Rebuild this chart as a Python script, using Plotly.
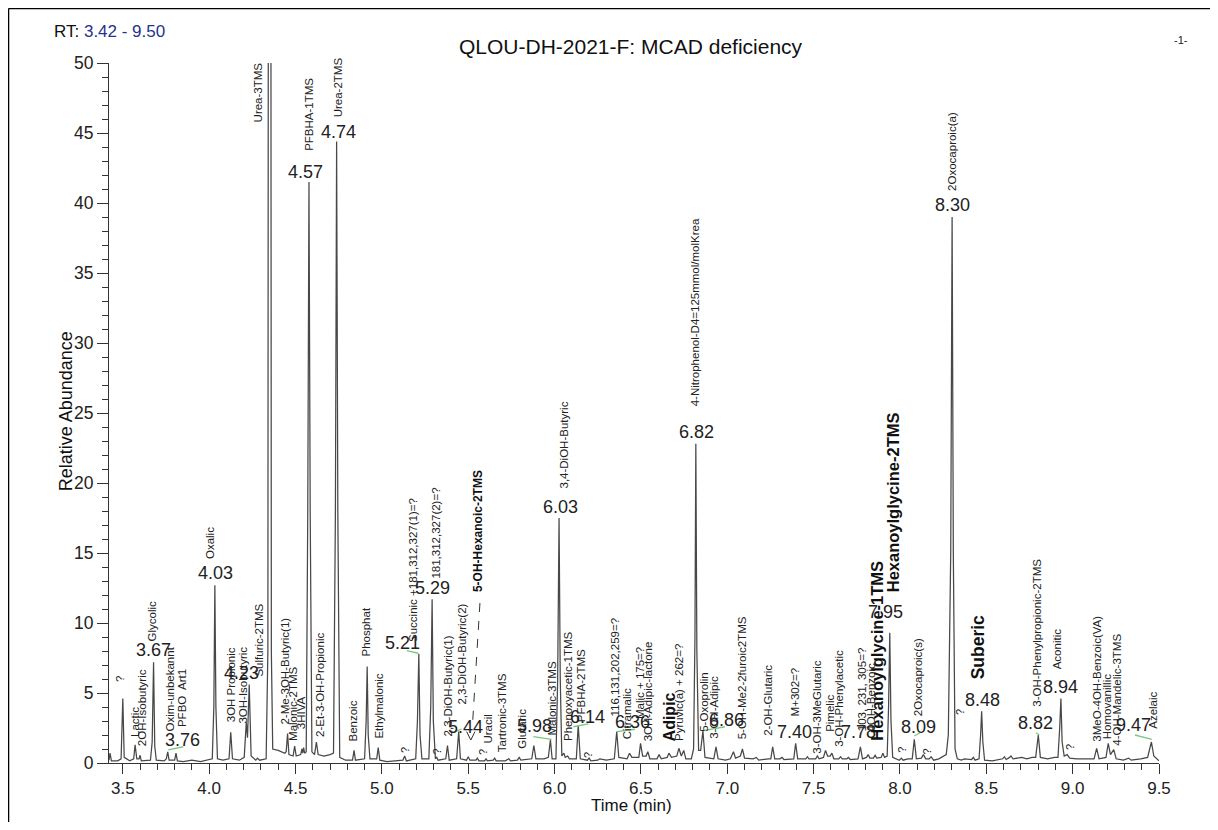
import plotly.graph_objects as go

# ---------------- chromatogram trace: (retention time [min], relative abundance [%]) ----------------
seg_a = [(3.420, 0.20), (3.426, 0.70), (3.434, 0.15), (3.470, 0.15), (3.490, 0.30), (3.500, 4.60),
         (3.508, 0.40), (3.540, 0.15), (3.563, 0.30), (3.571, 1.30), (3.581, 0.30), (3.594, 0.30),
         (3.600, 0.55), (3.607, 0.15), (3.660, 0.20), (3.670, 1.50), (3.678, 7.20), (3.685, 1.20),
         (3.694, 0.20), (3.740, 0.15), (3.752, 0.30), (3.760, 0.80), (3.768, 0.20), (3.800, 0.20),
         (3.808, 0.70), (3.816, 0.15), (3.850, 0.10), (3.900, 0.20), (3.950, 0.10), (3.990, 0.20)]
seg_b = [(4.018, 0.30), (4.027, 4.00), (4.033, 12.7), (4.039, 4.00), (4.048, 0.30), (4.080, 0.20),
         (4.115, 0.30), (4.125, 2.20), (4.135, 0.30), (4.175, 0.20), (4.203, 0.40), (4.215, 2.90),
         (4.222, 1.80), (4.232, 5.60), (4.243, 0.50), (4.270, 0.20), (4.280, 0.35), (4.292, 0.20),
         (4.330, 0.30), (4.340, 8.00), (4.350, 200.0), (4.360, 8.00), (4.368, 1.00), (4.400, 0.90),
         (4.438, 0.70), (4.446, 0.80), (4.454, 2.10), (4.462, 0.60), (4.486, 0.50), (4.495, 1.20),
         (4.504, 0.50), (4.530, 0.60), (4.537, 1.00), (4.542, 0.70), (4.547, 1.10), (4.553, 0.70),
         (4.562, 0.80), (4.571, 18.0), (4.578, 41.5), (4.585, 18.0), (4.595, 0.80), (4.610, 0.60),
         (4.621, 1.50), (4.631, 0.60), (4.665, 0.50), (4.700, 0.60), (4.720, 0.70), (4.731, 18.0),
         (4.738, 44.4), (4.745, 18.0), (4.756, 0.40), (4.790, 0.20), (4.830, 0.20), (4.839, 0.90),
         (4.847, 0.20), (4.900, 0.30), (4.909, 3.00), (4.915, 6.90), (4.921, 2.00), (4.931, 0.30),
         (4.970, 0.30), (4.979, 1.10), (4.988, 0.20)]
seg_c = [(5.030, 0.10), (5.080, 0.15), (5.122, 0.20), (5.132, 0.50), (5.142, 0.15), (5.196, 0.30),
         (5.206, 3.00), (5.214, 7.80), (5.221, 2.00), (5.232, 0.30), (5.272, 0.30), (5.283, 4.00),
         (5.291, 11.7), (5.298, 3.00), (5.310, 0.30), (5.318, 0.40), (5.326, 0.20), (5.370, 0.30),
         (5.380, 1.25), (5.390, 0.20), (5.433, 0.30), (5.445, 2.25), (5.455, 0.30), (5.490, 0.20),
         (5.500, 0.45), (5.510, 0.20), (5.545, 0.20), (5.553, 0.35), (5.562, 0.15), (5.595, 0.15),
         (5.603, 0.30), (5.611, 0.15), (5.645, 0.20), (5.653, 0.35), (5.662, 0.15), (5.715, 0.15),
         (5.735, 0.30), (5.745, 0.15), (5.785, 0.20), (5.795, 0.40), (5.805, 0.20), (5.868, 0.30),
         (5.880, 1.25), (5.892, 0.30), (5.940, 0.30), (5.964, 0.40), (5.976, 1.65), (5.986, 0.30)]
seg_d = [(6.008, 0.30), (6.018, 6.00), (6.026, 17.5), (6.033, 6.00), (6.042, 0.50), (6.054, 0.70),
         (6.062, 0.40), (6.076, 0.50), (6.086, 0.30), (6.126, 0.30), (6.137, 2.70), (6.149, 0.30),
         (6.190, 0.20), (6.200, 0.35), (6.210, 0.15), (6.250, 0.20), (6.262, 0.30), (6.300, 0.20),
         (6.346, 0.30), (6.360, 2.25), (6.372, 0.40), (6.420, 0.30), (6.434, 0.70), (6.448, 0.40),
         (6.488, 0.40), (6.498, 1.40), (6.510, 0.50), (6.530, 0.50), (6.540, 0.80), (6.552, 0.30),
         (6.593, 0.30), (6.605, 0.60), (6.618, 0.30), (6.652, 0.40), (6.662, 0.70), (6.677, 0.40),
         (6.708, 0.50), (6.720, 1.05), (6.734, 0.50), (6.748, 0.90), (6.760, 0.30), (6.792, 0.30),
         (6.805, 1.00), (6.813, 9.00), (6.818, 22.8), (6.824, 8.00), (6.834, 0.90), (6.846, 0.90),
         (6.859, 2.30), (6.871, 0.40), (6.922, 0.30), (6.935, 1.15), (6.947, 0.30), (6.990, 0.20),
         (7.018, 0.30), (7.036, 0.80), (7.048, 0.35), (7.076, 0.50), (7.088, 1.00), (7.100, 0.35)]
seg_e = [(7.150, 0.30), (7.168, 0.40), (7.182, 0.20), (7.240, 0.30), (7.252, 0.30), (7.263, 1.15),
         (7.275, 0.30), (7.305, 0.30), (7.317, 0.40), (7.328, 0.25), (7.385, 0.30), (7.396, 1.40),
         (7.408, 0.30), (7.455, 0.30), (7.464, 0.45), (7.473, 0.30), (7.512, 0.30), (7.522, 0.50),
         (7.532, 0.30), (7.557, 0.40), (7.569, 0.90), (7.581, 0.50), (7.596, 0.50), (7.606, 0.70),
         (7.617, 0.30), (7.646, 0.30), (7.656, 0.45), (7.666, 0.30), (7.692, 0.30), (7.702, 0.40),
         (7.712, 0.25), (7.757, 0.30), (7.771, 1.15), (7.783, 0.30), (7.806, 0.40), (7.816, 0.60),
         (7.826, 0.35), (7.846, 0.35), (7.856, 0.55), (7.866, 0.35), (7.891, 0.40), (7.901, 0.70),
         (7.911, 0.40), (7.926, 0.50), (7.934, 4.00), (7.941, 9.30), (7.948, 3.00), (7.958, 0.40),
         (7.996, 0.20), (8.008, 0.35), (8.018, 0.20), (8.046, 0.30), (8.071, 0.30), (8.083, 1.70),
         (8.095, 0.30), (8.124, 0.35), (8.136, 0.60), (8.149, 0.30), (8.170, 0.30), (8.180, 0.45),
         (8.195, 0.20), (8.225, 0.30), (8.250, 0.50), (8.268, 0.60)]
seg_f = [(8.280, 2.00), (8.294, 15.0), (8.302, 39.0), (8.309, 15.0), (8.319, 1.00), (8.332, 0.30),
         (8.355, 0.20), (8.375, 0.30), (8.415, 0.25), (8.425, 0.40), (8.435, 0.20), (8.458, 0.30),
         (8.467, 2.00), (8.473, 3.70), (8.480, 1.50), (8.490, 0.20), (8.535, 0.15), (8.595, 0.30),
         (8.605, 0.45), (8.615, 0.25), (8.635, 0.40), (8.643, 0.50), (8.655, 0.30), (8.695, 0.35),
         (8.705, 0.40), (8.735, 0.30), (8.765, 0.40), (8.786, 0.40), (8.801, 2.00), (8.813, 0.40),
         (8.855, 0.30), (8.895, 0.40), (8.915, 0.40), (8.925, 2.50), (8.932, 4.60), (8.939, 1.50),
         (8.951, 0.50), (8.968, 0.60), (8.983, 0.35), (9.023, 0.30), (9.045, 0.30), (9.095, 0.30),
         (9.124, 0.30), (9.139, 1.05), (9.153, 0.30), (9.193, 0.40), (9.206, 1.40), (9.219, 0.60),
         (9.238, 0.95), (9.252, 0.30), (9.294, 0.20), (9.324, 0.35), (9.339, 0.20), (9.394, 0.30),
         (9.434, 0.40), (9.456, 1.50), (9.470, 0.50), (9.500, 0.15)]

# ---------------- peak retention-time labels (text, rt, abundance) ----------------
rt_labels = [("3.67", 3.679, 8.07), ("3.76", 3.843, 1.64), ("4.03", 4.034, 13.57), ("4.23", 4.188, 6.43),
             ("4.57", 4.555, 42.21), ("4.74", 4.746, 45.07), ("5.21", 5.122, 8.57), ("5.29", 5.296, 12.5),
             ("5.44", 5.487, 2.57), ("5.98", 5.884, 2.64), ("6.03", 6.032, 18.29),
             ("6.14", 6.191, 3.32), ("6.36", 6.450, 2.95), ("6.82", 6.823, 23.66), ("6.86", 6.997, 3.07),
             ("7.40", 7.392, 2.24), ("7.78", 7.759, 2.24), ("7.95", 7.919, 10.79), ("8.09", 8.110, 2.59),
             ("8.30", 8.304, 39.86), ("8.48", 8.477, 4.50), ("8.82", 8.784, 2.84), ("8.94", 8.931, 5.45),
             ("9.47", 9.351, 2.71)]

# ---------------- compound names (text, rt, abundance at text foot) ----------------
compound_names = [
    ("?", 3.484, 5.71), ("Lactic", 3.571, 1.79), ("2OH-Isobutyric", 3.609, 1.14), ("Glycolic", 3.669, 8.57),
    ("Oxim-unbekannt", 3.773, 2.21), ("PFBO  Art1", 3.843, 2.50), ("Oxalic", 4.005, 14.5),
    ("3OH Propionic", 4.131, 2.86), ("3OH-Isobutyric", 4.196, 2.71), ("Sulfuric-2TMS", 4.283, 6.07),
    ("Urea-3TMS", 4.284, 45.7), ("2-Me-3OH-Butyric(1)", 4.439, 2.71), ("Malonic-2TMS", 4.485, 1.50),
    ("3HIVA", 4.536, 2.36), ("PFBHA-1TMS", 4.574, 43.64), ("2-Et-3-OH-Propionic", 4.642, 1.79),
    ("Urea-2TMS", 4.748, 46.07), ("Benzoic", 4.833, 1.43), ("Phosphat", 4.908, 7.57),
    ("Ethylmalonic", 4.978, 1.64), ("Succinic +181,312,327(1)=?", 5.180, 8.57),
    ("181,312,327(2)=?", 5.308, 13.07), ("2,3-DiOH-Butyric(1)", 5.383, 1.79),
    ("2,3-DiOH-Butyric(2)", 5.464, 4.14), ("Uracil", 5.615, 1.29), ("Tartronic-3TMS", 5.694, 0.71),
    ("Glutaric", 5.810, 0.93), ("Malonic-3TMS", 5.983, 1.86), ("3,4-DiOH-Butyric", 6.049, 19.5),
    ("Phenoxyacetic-1TMS", 6.078, 1.50), ("PFBHA-2TMS", 6.157, 2.86), ("116,131,202,259=?", 6.350, 3.21),
    ("Citramalic", 6.418, 1.64), ("Malic + 175=?", 6.495, 3.07), ("3OH-Adipic-lactone", 6.543, 1.50),
    ("Pyruvic(a) + 262=?", 6.717, 1.50), ("4-Nitrophenol-D4=125mmol/molKrea", 6.815, 25.43),
    ("5-Oxoprolin", 6.861, 2.14), ("3-OH-Adipic", 6.919, 1.64), ("5-OH-Me2-2furoic2TMS", 7.084, 1.64),
    ("2-OH-Glutaric", 7.238, 1.86), ("M+302=?", 7.392, 3.29), ("3-OH-3MeGlutaric", 7.518, 0.57),
    ("Pimelic", 7.591, 2.14), ("3-OH-Phenylacetic", 7.643, 1.07), ("103, 231, 305=?", 7.778, 2.21),
    ("4OH-Benzoic", 7.827, 2.14), ("2Oxocaproic(s)", 8.106, 3.29), ("2Oxocaproic(a)", 8.304, 40.79),
    ("3-OH-Phenylpropionic-2TMS", 8.792, 3.93), ("Aconitic", 8.908, 6.64),
    ("3MeO-4OH-Benzoic(VA)", 9.139, 1.43), ("Homovanillic", 9.197, 1.64),
    ("4-OH-Mandelic-3TMS", 9.255, 1.14), ("Azelaic", 9.467, 2.36)]

# highlighted (bold) compound names: (text, rt, abundance at text foot, font size)
key_names = [("5-OH-Hexanoic-2TMS", 5.557, 12.14, 12), ("Adipic", 6.668, 1.50, 16),
             ("Hexanoylglycine-1TMS", 7.865, 1.50, 16.5), ("Hexanoylglycine-2TMS", 7.961, 12.14, 16.5),
             ("Suberic", 8.454, 5.93, 17.5)]

# unidentified small peaks marked "?" (rt, abundance at mark centre)
unknown_marks = [(5.134, 0.93), (5.318, 0.81), (5.582, 0.81), (6.194, 0.57), (8.010, 0.93),
                 (8.155, 0.81), (8.348, 3.64), (8.985, 1.14)]

# green integration baseline ticks: (rt start, abundance start, rt end, abundance end)
baseline_ticks = [(3.763, 0.93, 3.850, 1.16), (5.144, 8.02, 5.211, 7.84), (5.424, 2.24, 5.462, 2.43),
                  (5.877, 1.88, 5.983, 1.69), (6.109, 2.59, 6.196, 2.79), (6.360, 2.24, 6.466, 2.41),
                  (6.861, 2.31, 6.987, 2.59), (8.083, 1.93, 8.116, 2.16), (8.788, 2.16, 8.807, 2.00),
                  (9.361, 2.00, 9.458, 1.69)]

# dashed pointer from the 5-OH-Hexanoic-2TMS label down to its position
pointer_rt = [5.568, 5.524]
pointer_ab = [11.43, 2.59]
pointer_head_rt = [5.491, 5.515, 5.539]
pointer_head_ab = [2.24, 1.64, 2.24]

x_ticks = [3.5, 4.0, 4.5, 5.0, 5.5, 6.0, 6.5, 7.0, 7.5, 8.0, 8.5, 9.0, 9.5]
y_ticks = [0, 5, 10, 15, 20, 25, 30, 35, 40, 45, 50]

# ---------------- build figure ----------------
FONT = "Liberation Sans, Arial, sans-serif"
points = seg_a + seg_b + seg_c + seg_d + seg_e + seg_f
rt_all = [p[0] for p in points]
ab_all = [p[1] for p in points]

fig = go.Figure()
fig.add_trace(go.Scatter(x=rt_all, y=ab_all, mode="lines",
                         line=dict(color="#484848", width=1.25), hoverinfo="skip"))

gx, gy = [], []
for x0, y0, x1, y1 in baseline_ticks:
    gx += [x0, x1, None]
    gy += [y0, y1, None]
fig.add_trace(go.Scatter(x=gx, y=gy, mode="lines", line=dict(color="#7cc87c", width=1.3),
                         hoverinfo="skip"))
fig.add_trace(go.Scatter(x=pointer_rt, y=pointer_ab, mode="lines",
                         line=dict(color="#333333", width=1, dash="dash"), hoverinfo="skip"))
fig.add_trace(go.Scatter(x=pointer_head_rt, y=pointer_head_ab, mode="lines",
                         line=dict(color="#333333", width=1), hoverinfo="skip"))

ann = []
for txt, x, y in rt_labels:
    ann.append(dict(x=x, y=y, xref="x", yref="y", text=txt, showarrow=False,
                    font=dict(family=FONT, size=18, color="#222222"),
                    xanchor="center", yanchor="middle"))
for txt, x, y in compound_names:
    ann.append(dict(x=x, y=y, xref="x", yref="y", text=txt, showarrow=False, textangle=-90,
                    font=dict(family=FONT, size=11.5, color="#222222"),
                    xanchor="center", yanchor="bottom", borderpad=0))
for txt, x, y, s in key_names:
    ann.append(dict(x=x, y=y, xref="x", yref="y", text="<b>" + txt + "</b>", showarrow=False,
                    textangle=-90, font=dict(family=FONT, size=s, color="#111111"),
                    xanchor="center", yanchor="bottom", borderpad=0))
for x, y in unknown_marks:
    ann.append(dict(x=x, y=y, xref="x", yref="y", text="?", showarrow=False, textangle=-90,
                    font=dict(family=FONT, size=11, color="#222222"),
                    xanchor="center", yanchor="middle", borderpad=0))

# page texts (paper coordinates relative to the plotting area)
ann.append(dict(x=0.4967, y=1.0229, xref="paper", yref="paper", showarrow=False,
                text="QLOU-DH-2021-F: MCAD deficiency", xanchor="center", yanchor="middle",
                font=dict(family=FONT, size=21, color="#111111")))
ann.append(dict(x=-0.0543, y=1.0443, xref="paper", yref="paper", showarrow=False,
                text="RT: <span style='color:#26338a'>3.42 - 9.50</span>", xanchor="left",
                yanchor="middle", font=dict(family=FONT, size=17, color="#111111")))
ann.append(dict(x=1.021, y=1.0329, xref="paper", yref="paper", showarrow=False, text="-1-",
                xanchor="center", yanchor="middle", font=dict(family=FONT, size=11, color="#222222")))
ann.append(dict(x=-0.0412, y=0.502, xref="paper", yref="paper", showarrow=False,
                text="Relative Abundance", textangle=-90, xanchor="center", yanchor="middle",
                font=dict(family=FONT, size=18, color="#111111")))
ann.append(dict(x=0.498, y=-0.0614, xref="paper", yref="paper", showarrow=False,
                text="Time (min)", xanchor="center", yanchor="middle",
                font=dict(family=FONT, size=17, color="#111111")))

shapes = [
    dict(type="line", xref="paper", yref="paper", x0=-0.0957, x1=1.06, y0=1.0779, y1=1.0779,
         line=dict(color="black", width=1.5)),
    dict(type="line", xref="paper", yref="paper", x0=-0.0957, x1=-0.0957, y0=1.0779, y1=-0.1,
         line=dict(color="black", width=1.5)),
]

fig.update_layout(
    width=1202, height=814, autosize=False,
    margin=dict(l=101, r=51, t=55, b=59, pad=0),
    paper_bgcolor="white", plot_bgcolor="white",
    showlegend=False, annotations=ann, shapes=shapes,
    font=dict(family=FONT, color="#222222"),
)
fig.update_xaxes(range=[3.42, 9.5], tickmode="array", tickvals=x_ticks,
                 ticktext=["%.1f" % v for v in x_ticks],
                 showline=True, linecolor="#333333", linewidth=1, ticks="outside", ticklen=10,
                 tickwidth=1, tickcolor="#333333", showgrid=False, zeroline=False,
                 tickfont=dict(family=FONT, size=17, color="#222222"),
                 minor=dict(ticks="outside", ticklen=6, tickwidth=1, tickcolor="#333333",
                            tick0=3.5, dtick=0.1, showgrid=False))
fig.update_yaxes(range=[0, 50], tickmode="array", tickvals=y_ticks,
                 ticktext=[str(v) for v in y_ticks],
                 showline=True, linecolor="#333333", linewidth=1, ticks="outside", ticklen=11,
                 tickwidth=1, tickcolor="#333333", showgrid=False, zeroline=False,
                 tickfont=dict(family=FONT, size=17.5, color="#222222"),
                 minor=dict(ticks="outside", ticklen=6, tickwidth=1, tickcolor="#333333",
                            tick0=0, dtick=1, showgrid=False))

fig.write_html("out.html")
